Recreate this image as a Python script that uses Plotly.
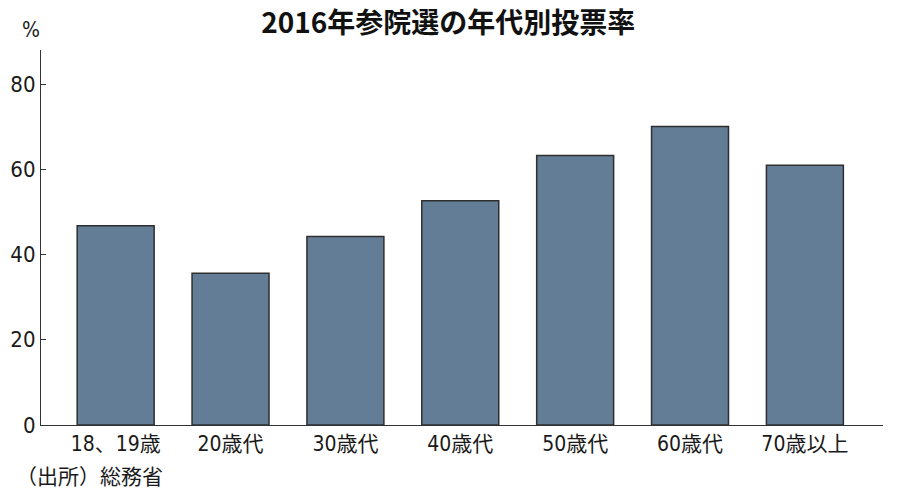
import plotly.graph_objects as go

categories = ["18、19歳", "20歳代", "30歳代", "40歳代", "50歳代", "60歳代", "70歳以上"]
turnout = [46.78, 35.60, 44.24, 52.64, 63.25, 70.07, 60.98]
y_ticks = [0, 20, 40, 60, 80]

FONT = "Liberation Sans Narrow, DejaVu Sans Condensed, Noto Sans CJK JP"
TFONT = "Noto Sans CJK JP"

fig = go.Figure(go.Bar(
    x=list(range(len(categories))),
    y=turnout,
    width=0.67,
    marker=dict(color="#637d97", line=dict(color="#2f2f2f", width=1.5)),
))

fig.update_layout(
    width=900, height=504,
    margin=dict(l=41, r=17, t=50, b=79, autoexpand=False),
    paper_bgcolor="white", plot_bgcolor="white",
    showlegend=False,
    font=dict(family=FONT, color="#1a1a1a"),
    title=dict(text="<b>2016年参院選の年代別投票率</b>", x=0.498, xanchor="center",
               y=0.953, yanchor="middle", font=dict(size=28, family=TFONT, color="#111")),
    xaxis=dict(
        range=[-0.65, 6.68], automargin=False,
        tickmode="array", tickvals=list(range(len(categories))), ticktext=categories,
        showline=True, linecolor="#333", linewidth=1.2,
        ticks="", showgrid=False, zeroline=False,
        tickfont=dict(size=21, family=FONT),
    ),
    yaxis=dict(
        range=[0, 88], automargin=False,
        tickmode="array", tickvals=y_ticks,
        showline=True, linecolor="#333", linewidth=1.2,
        ticks="inside", ticklen=5, tickcolor="#333",
        showgrid=False, zeroline=False,
        tickfont=dict(size=22, family=FONT),
    ),
    annotations=[
        dict(text="%", xref="paper", yref="paper", x=-0.012, y=1.053,
             xanchor="center", yanchor="middle", showarrow=False,
             font=dict(size=21, family=FONT)),
        dict(text="（出所）総務省", xref="paper", yref="paper", x=-0.032, y=-0.139,
             xanchor="left", yanchor="middle", showarrow=False,
             font=dict(size=21, family=FONT)),
    ],
)

fig.write_html("out.html", config={"displayModeBar": False},
               post_script="document.body.style.margin='0px';")
